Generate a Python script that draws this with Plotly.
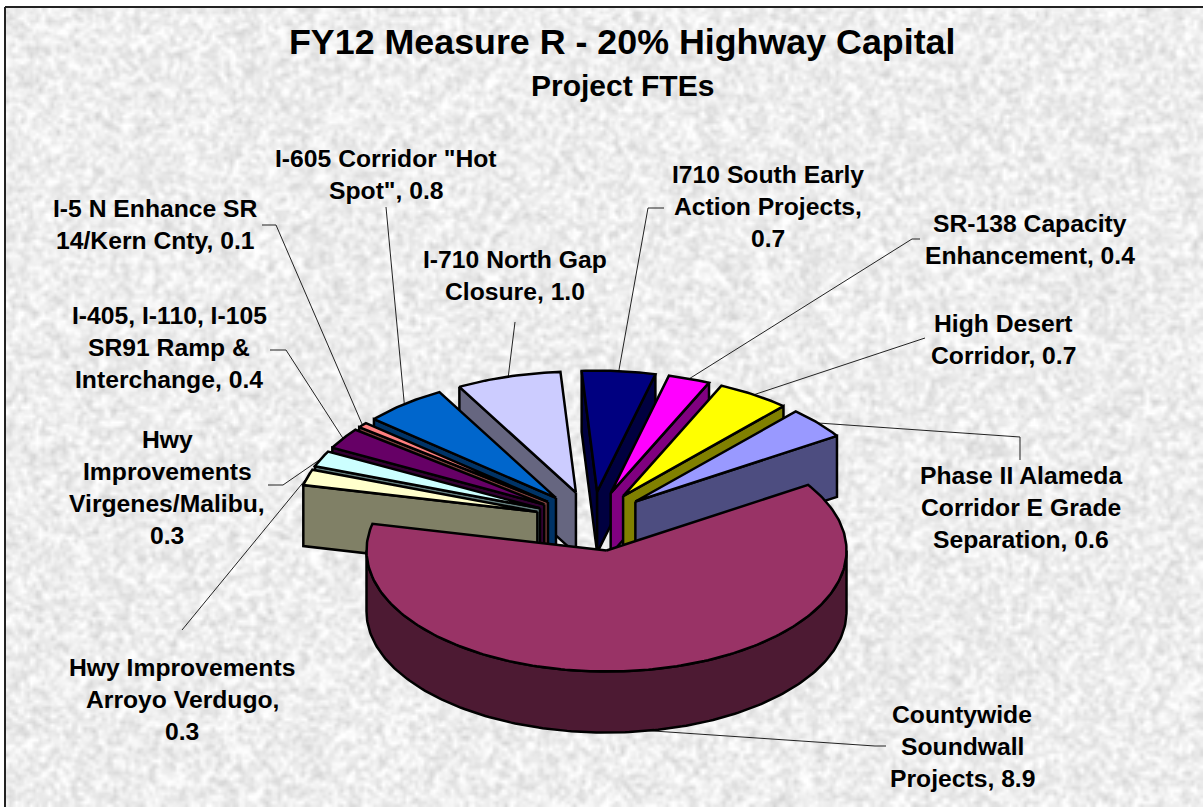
import base64
import math
import struct
import zlib

import numpy as np
import plotly.graph_objects as go

# ---------- data (clockwise from just left of 12 o'clock) ----------
CATEGORIES = [
    "I710 South Early Action Projects", "SR-138 Capacity Enhancement",
    "High Desert Corridor", "Phase II Alameda Corridor E Grade Separation",
    "Countywide Soundwall Projects", "Hwy Improvements Arroyo Verdugo",
    "Hwy Improvements Virgenes/Malibu", "I-405, I-110, I-105 SR91 Ramp & Interchange",
    "I-5 N Enhance SR 14/Kern Cnty", 'I-605 Corridor "Hot Spot"',
    "I-710 North Gap Closure",
]
VALUES = [0.7, 0.4, 0.7, 0.6, 8.9, 0.3, 0.3, 0.4, 0.1, 0.8, 1.0]

TOP_COLORS = ["#000080", "#FF00FF", "#FFFF00", "#9999FF", "#993366", "#FFFFCC",
              "#CCFFFF", "#660066", "#FF8080", "#0066CC", "#CCCCFF"]
WALL_COLORS = ["#000040", "#800080", "#808000", "#4D4D80", "#4D1A33", "#808066",
               "#668080", "#330033", "#804040", "#003366", "#666680"]

LABEL_LINES = [
    ["I710 South Early", "Action Projects,", "0.7"],
    ["SR-138 Capacity", "Enhancement, 0.4"],
    ["High Desert", "Corridor, 0.7"],
    ["Phase II Alameda", "Corridor E Grade", "Separation, 0.6"],
    ["Countywide", "Soundwall", "Projects, 8.9"],
    ["Hwy Improvements", "Arroyo Verdugo,", "0.3"],
    ["Hwy", "Improvements", "Virgenes/Malibu,", "0.3"],
    ["I-405, I-110, I-105", "SR91 Ramp &", "Interchange, 0.4"],
    ["I-5 N Enhance SR", "14/Kern Cnty, 0.1"],
    ['I-605 Corridor "Hot', 'Spot", 0.8'],
    ["I-710 North Gap", "Closure, 1.0"],
]

# ---------- layout (pixel space of the picture) ----------
W, H = 1203, 807
CX, CY = 592, 520
RX, RY = 240, 121
DEPTH = 61
START_ANGLE = -3.7
EXPLODE = [57, 57, 57, 57, 62, 57, 57, 57, 57, 57, 57]
NUDGE_X = [0, 0, 0, 0, 3.7, 0, 0, 0, 0, 0, 0]
DRAW_ORDER = [0, 1, 2, 3, 10, 9, 8, 7, 6, 5, 4]
LABEL_CENTER = [(768, 174), (1030, 223), (1003, 323), (1021, 475), (962, 714), (182, 667),
                (167, 439), (169, 315), (155, 208), (386, 158), (515, 259)]
LINE_STEP = 32
# elbow points of the leader lines, from label to slice rim
LEADER_VIA = [
    [(664, 208), (648, 208)], [(920, 239), (912, 239)], [(925, 338)],
    [(1020, 460), (1020, 437)], [(886, 746), (875, 746)], [(182, 630)],
    [(268, 485), (283, 485)], [(270, 350), (286, 350)], [(262, 225), (276, 225)],
    [(386, 207)], [(515, 322)],
]
FONT = "Liberation Sans, Arial, sans-serif"
LABEL_SIZE = 24.7


def texture_uri(w=401, h=269):
    yy, xx = np.mgrid[0:h, 0:w]
    val = np.sin(xx * 12.9898 + yy * 78.233) * 43758.5453
    n = val - np.floor(val)
    n = (n + np.roll(n, 1, 0) + np.roll(n, 1, 1) + np.roll(np.roll(n, 1, 0), 1, 1)) / 4
    img = np.clip(238 + (n - 0.5) * 60, 190, 255).astype(np.uint8)
    raw = b"".join(b"\x00" + row.tobytes() for row in img)

    def chunk(tag, data):
        body = tag + data
        return struct.pack(">I", len(data)) + body + struct.pack(">I", zlib.crc32(body))

    png = b"\x89PNG\r\n\x1a\n" + chunk(b"IHDR", struct.pack(">IIBBBBB", w, h, 8, 0, 0, 0, 0))
    png += chunk(b"IDAT", zlib.compress(raw, 9)) + chunk(b"IEND", b"")
    return "data:image/png;base64," + base64.b64encode(png).decode()


def rim(cx, cy, deg, dy=0):
    a = math.radians(deg)
    return cx + RX * math.sin(a), cy - RY * math.cos(a) + dy


def arc(cx, cy, a0, a1, dy=0):
    n = max(2, int(abs(a1 - a0)) + 2)
    return [rim(cx, cy, a0 + (a1 - a0) * i / (n - 1), dy) for i in range(n)]


fig = go.Figure()


def poly(points, color):
    xs = [p[0] for p in points] + [points[0][0]]
    ys = [p[1] for p in points] + [points[0][1]]
    fig.add_trace(go.Scatter(x=xs, y=ys, mode="lines", fill="toself", fillcolor=color,
                             line=dict(color="black", width=2.5), hoverinfo="skip",
                             showlegend=False))


total = sum(VALUES)
angles = [START_ANGLE]
for v in VALUES:
    angles.append(angles[-1] + v / total * 360)

shapes_geo = []
for i, v in enumerate(VALUES):
    a0, a1 = angles[i], angles[i + 1]
    mid = math.radians((a0 + a1) / 2)
    cx = CX + EXPLODE[i] * math.sin(mid) + NUDGE_X[i]
    cy = CY - EXPLODE[i] * 0.5 * math.cos(mid)
    shapes_geo.append((a0, a1, cx, cy))

# leader lines lie below the slices
for i in range(len(VALUES)):
    a0, a1, cx, cy = shapes_geo[i]
    end = rim(cx, cy, (a0 + a1) / 2, DEPTH if i == 4 else 0)
    pts = LEADER_VIA[i] + [end]
    fig.add_trace(go.Scatter(x=[p[0] for p in pts], y=[p[1] for p in pts], mode="lines",
                             line=dict(color="#222222", width=1), hoverinfo="skip",
                             showlegend=False))

for i in DRAW_ORDER:
    a0, a1, cx, cy = shapes_geo[i]
    apex, apex_low = (cx, cy), (cx, cy + DEPTH)
    if math.sin(math.radians(a0)) < 0:
        p = rim(cx, cy, a0)
        poly([apex, p, (p[0], p[1] + DEPTH), apex_low], WALL_COLORS[i])
    if math.sin(math.radians(a1)) > 0:
        p = rim(cx, cy, a1)
        poly([apex, p, (p[0], p[1] + DEPTH), apex_low], WALL_COLORS[i])
    lo, hi = max(a0, 90), min(a1, 270)
    if lo < hi:
        poly(arc(cx, cy, lo, hi) + arc(cx, cy, hi, lo, DEPTH), WALL_COLORS[i])
    poly([apex] + arc(cx, cy, a0, a1), TOP_COLORS[i])

ann = [
    dict(x=622, y=42, text="FY12 Measure R - 20% Highway Capital",
         font=dict(size=35.8, family=FONT, color="black")),
    dict(x=622, y=85, text="Project FTEs", font=dict(size=30, family=FONT, color="black")),
]
for a in ann:
    a["text"] = "<b>" + a["text"] + "</b>"
for lines, (lx, ly) in zip(LABEL_LINES, LABEL_CENTER):
    for k, line in enumerate(lines):
        ann.append(dict(x=lx, y=ly + k * LINE_STEP, text="<b>" + line + "</b>",
                        font=dict(size=LABEL_SIZE, family=FONT, color="black")))
for a in ann:
    a.update(xref="x", yref="y", showarrow=False, xanchor="center", yanchor="middle")

fig.update_layout(
    width=W, height=H, autosize=False, margin=dict(l=0, r=0, t=0, b=0),
    paper_bgcolor="white", plot_bgcolor="white", showlegend=False,
    xaxis=dict(range=[0, W], visible=False, fixedrange=True),
    yaxis=dict(range=[H, 0], visible=False, fixedrange=True),
    images=[dict(source=texture_uri(), xref="x", yref="y", x=6, y=8, sizex=W - 6, sizey=H - 8,
                 sizing="stretch", layer="below", xanchor="left", yanchor="top")],
    shapes=[
        dict(type="line", xref="x", yref="y", x0=5, x1=5, y0=7, y1=H, line=dict(color="#222", width=2)),
        dict(type="line", xref="x", yref="y", x0=5, x1=W, y0=7, y1=7, line=dict(color="#222", width=2)),
    ],
    annotations=ann,
)
fig.write_html("out.html", config={"displayModeBar": False},
               post_script="document.body.style.margin='0';document.body.style.overflow='hidden';")
